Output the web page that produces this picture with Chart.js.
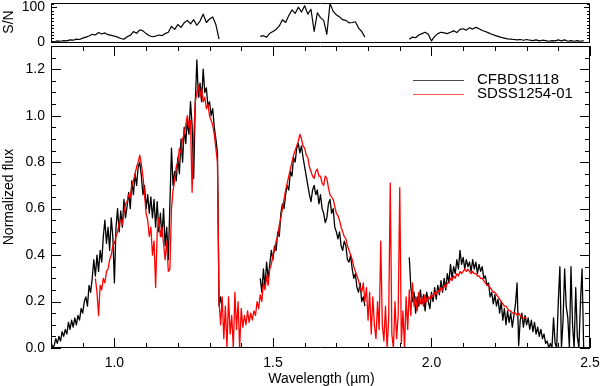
<!DOCTYPE html>
<html><head><meta charset="utf-8">
<script src="https://cdn.jsdelivr.net/npm/chart.js@4.4.1/dist/chart.umd.min.js"></script>
<style>
html,body{margin:0;padding:0;background:#fff;}
#wrap{position:relative;width:600px;height:386px;}
canvas{position:absolute;left:0;top:0;}
</style>
</head><body>
<div id="wrap"><canvas id="sn" width="600" height="386"></canvas><canvas id="main" width="600" height="386"></canvas></div>
<script>
// ---- data: wavelength grids in micron ----
const fluxStep = 0.005;   // spectra sampled every 0.005 micron
const snStep = 0.01;      // S/N sampled every 0.01 micron

// CFBDS1118 (black), three observed segments
const cfbdsStartA = 0.800;
const cfbdsFluxA = [
 0.03,0.00, 0.01,0.04, 0.02,0.05, 0.03,0.07, 0.05,0.08, 0.06,0.11, 0.08,0.12, 0.09,0.13, 0.10,0.14, 0.12,0.17,
 0.15,0.20, 0.22,0.18, 0.27,0.24, 0.30,0.38, 0.31,0.40, 0.33,0.42, 0.37,0.48, 0.55,0.45, 0.52,0.42, 0.56,0.48,
 0.28,0.52, 0.60,0.50, 0.59,0.52, 0.64,0.56, 0.61,0.67, 0.60,0.72, 0.66,0.75, 0.70,0.78, 0.80,0.74, 0.66,0.70,
 0.60,0.66, 0.58,0.65, 0.56,0.64, 0.52,0.63, 0.50,0.58, 0.48,0.60, 0.44,0.52, 0.38,0.62, 0.86,0.70, 0.76,0.72,
 0.82,0.75, 0.90,0.80, 0.95,0.88, 0.98,0.92, 1.06,0.96, 0.73,1.05, 1.24,1.08, 1.14,1.06, 1.20,1.10, 1.12,1.04,
 1.06,1.00, 1.03,0.95, 0.90,0.84, 0.18,0.22, 0.17
];
const cfbdsStartB = 1.460;
const cfbdsFluxB = [
 0.30,0.24, 0.34,0.26, 0.37,0.30, 0.36,0.42,
 0.38,0.44, 0.42,0.50, 0.48,0.58, 0.62,0.60, 0.66,0.70, 0.68,0.76, 0.74,0.82, 0.80,0.86, 0.88,0.84, 0.87,0.82,
 0.78,0.74, 0.70,0.66, 0.63,0.68, 0.70,0.66, 0.68,0.62, 0.66,0.60, 0.58,0.54, 0.56,0.62, 0.64,0.58, 0.60,0.52,
 0.50,0.47, 0.50,0.44, 0.42,0.46, 0.44,0.38, 0.37,0.40, 0.34,0.30, 0.32,0.26, 0.24,0.28, 0.20,0.22, 0.18
];
const cfbdsStartC = 1.930;
const cfbdsFluxC = [
 0.39,0.26, 0.20,0.24, 0.15,0.22, 0.18,0.25, 0.19,0.23, 0.16,0.24, 0.20,0.17,
 0.24,0.20, 0.26,0.21, 0.27,0.23, 0.29,0.24, 0.30,0.25, 0.32,0.28, 0.36,0.30, 0.35,0.32, 0.38,0.34, 0.42,0.36,
 0.39,0.34, 0.38,0.35, 0.37,0.33, 0.38,0.34, 0.37,0.32, 0.36,0.33, 0.35,0.30, 0.31,0.27, 0.28,0.22, 0.24,0.19,
 0.23,0.18, 0.21,0.15, 0.20,0.12, 0.17,0.10, 0.16,0.11, 0.15,0.09, 0.14,0.19, 0.28,0.01, 0.12,0.15, 0.09,0.14,
 0.10,0.13, 0.08,0.12, 0.07,0.11, 0.06,0.09, 0.05,0.08, 0.04,0.06, 0.02,0.03, 0.00,0.02, 0.00,0.13, 0.02,0.00,
 0.20,0.35, 0.00,0.12, 0.34,0.18, 0.13,0.00, 0.35,0.10, 0.00,0.26, 0.05,0.00, 0.20,0.34, 0.00
];

// SDSS1254-01 (red)
const sdssStart = 0.940;
const sdssFlux = [
 0.30,0.24, 0.14,0.27, 0.25,0.30, 0.28,0.33, 0.34,0.38, 0.40,0.44,
 0.45,0.48, 0.50,0.54, 0.55,0.53, 0.58,0.62, 0.63,0.66, 0.65,0.70, 0.72,0.75, 0.78,0.80, 0.83,0.79, 0.74,0.66,
 0.58,0.55, 0.48,0.52, 0.40,0.46, 0.26,0.50, 0.56,0.48, 0.52,0.45, 0.38,0.46, 0.33,0.34, 0.60,0.68, 0.72,0.78,
 0.80,0.86, 0.84,0.90, 0.92,0.96, 1.00,0.95, 0.98,0.67, 0.90,1.06, 1.10,1.13, 1.08,1.12, 1.06,1.08, 1.03,1.05,
 1.00,0.98, 0.96,0.92, 0.86,0.80, 0.20,0.10, 0.22,0.04, 0.18,0.00, 0.22,0.06, 0.14,0.00, 0.24,0.08, 0.20,0.00,
 0.17,0.09, 0.14,0.10, 0.16,0.11, 0.15,0.12, 0.16,0.14, 0.20,0.17, 0.23,0.20, 0.28,0.25, 0.31,0.27, 0.34,0.36,
 0.40,0.42, 0.46,0.48, 0.53,0.56, 0.60,0.64, 0.68,0.71, 0.74,0.77, 0.80,0.83, 0.85,0.87, 0.89,0.92, 0.90,0.87,
 0.86,0.83, 0.82,0.78, 0.76,0.74, 0.73,0.76, 0.77,0.74, 0.74,0.71, 0.70,0.74, 0.73,0.69, 0.66,0.65, 0.64,0.61,
 0.58,0.57, 0.55,0.52, 0.50,0.48, 0.47,0.44, 0.42,0.40, 0.38,0.35, 0.33,0.31, 0.29,0.26, 0.24,0.28, 0.20,0.26,
 0.12,0.24, 0.06,0.22, 0.10,0.04, 0.20,0.08, 0.46,0.10, 0.03,0.18, 0.00,0.12, 0.71,0.06, 0.00,0.20, 0.04,0.14,
 0.69,0.02, 0.16,0.00, 0.22,0.08, 0.25,0.14, 0.28,0.18, 0.22,0.16, 0.24,0.19, 0.22,0.18, 0.23,0.20, 0.22,0.21,
 0.23,0.22, 0.24,0.23, 0.25,0.24, 0.26,0.25, 0.27,0.26, 0.28,0.28, 0.30,0.29, 0.31,0.30, 0.32,0.31, 0.33,0.32,
 0.33,0.34, 0.33,0.34, 0.33,0.32, 0.33,0.32, 0.32,0.31, 0.31,0.30, 0.30,0.29, 0.28,0.27, 0.27,0.26, 0.25,0.24,
 0.24,0.23, 0.22,0.21, 0.20,0.19, 0.18,0.18, 0.17,0.16, 0.16,0.15, 0.15,0.15, 0.14,0.15, 0.14,0.13, 0.13,0.13,
 0.13
];

// S/N (top panel), three segments
const snStartA = 0.80;
const snValuesA = [
 2,0,3,2,4,3,6,5,8,7,
 11,14,17,22,20,27,23,26,21,19,
 17,14,10,8,15,19,30,25,35,32,
 24,18,15,17,20,18,24,28,45,36,
 50,42,55,62,52,64,48,60,80,56,
 66,72,50,8
];
const snStartB = 1.46;
const snValuesB = [
 16,18,14,25,
 30,36,46,64,56,76,92,82,100,86,
 104,80,94,30,84,70,62,22,111,88,
 78,72,64,62,55,56,58,40,30,14
];
const snStartC = 1.93;
const snValuesC = [
 8,14,12,20,24,28,22,
 3,16,24,28,26,24,28,32,27,36,
 38,34,41,37,42,38,33,30,26,22,
 19,16,13,11,9,8,7,6,7,5,
 7,5,4,6,3,5,4,2,4,3,
 6,3,6,2,4,2,4,2,4
];

const seriesNames = ['CFBDS1118', 'SDSS1254-01'];
const seriesColors = ['#000000', '#ff0000'];
const xMajorTicks = [1.0, 1.5, 2.0, 2.5];
const fluxMajorTicks = [0.0, 0.2, 0.4, 0.6, 0.8, 1.0, 1.2];
const snMajorTicks = [0, 100];

function segment(start, step, values) {
  return values.map((v, i) => ({ x: +(start + i * step).toFixed(4), y: v }));
}
function joinSegments(step, parts) {
  const out = [];
  parts.forEach((p, j) => {
    const pts = segment(p[0], step, p[1]);
    if (j > 0) out.push({ x: pts[0].x - step / 2, y: null });
    out.push(...pts);
  });
  return out;
}

const FONT = '"Liberation Sans", Arial, Helvetica, sans-serif';

const framePlugin = {
  id: 'frame',
  afterDatasetsDraw(chart, args, o) {
    const { ctx, chartArea: a } = chart;
    const xs = chart.scales.x, ys = chart.scales.y;
    ctx.save();
    ctx.strokeStyle = '#000';
    ctx.lineWidth = 1;
    ctx.beginPath();
    ctx.rect(a.left + 0.5, a.top + 0.5, a.right - a.left - 1, a.bottom - a.top - 1);
    ctx.stroke();
    if (o.xTicks) {
      const k0 = Math.ceil(xs.min / o.xMinor - 1e-6), k1 = Math.floor(xs.max / o.xMinor + 1e-6);
      ctx.beginPath();
      for (let k = k0; k <= k1; k++) {
        const v = k * o.xMinor;
        const major = o.xMajor.some(m => Math.abs(m - v) < 1e-6);
        const len = major ? o.majorLen : o.minorLen;
        const px = Math.round(xs.getPixelForValue(v)) + 0.5;
        ctx.moveTo(px, a.bottom); ctx.lineTo(px, a.bottom - len);
        ctx.moveTo(px, a.top); ctx.lineTo(px, a.top + len);
      }
      ctx.stroke();
    }
    {
      const k0 = Math.ceil(ys.min / o.yMinor - 1e-6), k1 = Math.floor(ys.max / o.yMinor + 1e-6);
      ctx.beginPath();
      for (let k = k0; k <= k1; k++) {
        const v = k * o.yMinor;
        const major = o.yMajor.some(m => Math.abs(m - v) < 1e-6);
        const len = major ? o.yMajorLen : o.yMinorLen;
        const py = Math.round(ys.getPixelForValue(v)) + 0.5;
        ctx.moveTo(a.left, py); ctx.lineTo(a.left + len, py);
        ctx.moveTo(a.right, py); ctx.lineTo(a.right - len, py);
      }
      ctx.stroke();
    }
    ctx.fillStyle = '#000';
    ctx.font = '14px ' + FONT;
    if (o.xLabels) {
      ctx.textAlign = 'center'; ctx.textBaseline = 'middle';
      o.xMajor.forEach(v => ctx.fillText(v.toFixed(1), xs.getPixelForValue(v), a.bottom + 15));
    }
    ctx.textAlign = 'right'; ctx.textBaseline = 'middle';
    o.yMajor.forEach(v => ctx.fillText(v.toFixed(o.yDigits), a.left - 6, ys.getPixelForValue(v)));
    if (o.xTitle) {
      ctx.textAlign = 'center'; ctx.textBaseline = 'middle';
      ctx.fillText(o.xTitle, (a.left + a.right) / 2 + 1, a.bottom + 31);
    }
    if (o.yTitle) {
      ctx.save();
      ctx.translate(9, o.yTitleY != null ? o.yTitleY : (a.top + a.bottom) / 2);
      ctx.rotate(-Math.PI / 2);
      ctx.textAlign = 'center'; ctx.textBaseline = 'middle';
      ctx.fillText(o.yTitle, 0, 0);
      ctx.restore();
    }
    if (o.legend) {
      ctx.font = '15px ' + FONT;
      ctx.textAlign = 'left'; ctx.textBaseline = 'middle';
      seriesNames.forEach((name, i) => {
        const ly = a.top + 34 + i * 14;
        ctx.strokeStyle = seriesColors[i];
        ctx.lineWidth = 1;
        ctx.globalAlpha = 0.7;
        ctx.beginPath();
        ctx.moveTo(a.right - 177, ly + 0.5); ctx.lineTo(a.right - 126, ly + 0.5);
        ctx.stroke();
        ctx.globalAlpha = 1;
        ctx.fillText(name, a.right - 113, ly);
      });
    }
    ctx.restore();
  }
};

const common = {
  responsive: false,
  animation: false,
  events: [],
  elements: { point: { radius: 0 }, line: { tension: 0, borderJoinStyle: 'round' } }
};

new Chart(document.getElementById('sn'), {
  type: 'line',
  data: { datasets: [{ data: joinSegments(snStep, [[snStartA, snValuesA], [snStartB, snValuesB], [snStartC, snValuesC]]),
                       borderColor: '#000', borderWidth: 1.2, spanGaps: false }] },
  options: Object.assign({}, common, {
    layout: { padding: { left: 51, right: 10, top: 3, bottom: 343 } },
    scales: {
      x: { type: 'linear', min: 0.8, max: 2.5, display: false },
      y: { type: 'linear', min: -3, max: 112, display: false }
    },
    plugins: {
      legend: { display: false }, tooltip: { enabled: false },
      frame: { xTicks: false, xLabels: false, yMajor: snMajorTicks, yMinor: 10, yMajorLen: 6, yMinorLen: 3, yDigits: 0, yTitle: 'S/N', yTitleY: 22 }
    }
  }),
  plugins: [framePlugin]
});

new Chart(document.getElementById('main'), {
  type: 'line',
  data: { datasets: [
    { label: seriesNames[0],
      data: joinSegments(fluxStep, [[cfbdsStartA, cfbdsFluxA], [cfbdsStartB, cfbdsFluxB], [cfbdsStartC, cfbdsFluxC]]),
      borderColor: seriesColors[0], borderWidth: 1.3, order: 1, spanGaps: false },
    { label: seriesNames[1], data: segment(sdssStart, fluxStep, sdssFlux),
      borderColor: seriesColors[1], borderWidth: 1.3, order: 0 }
  ] },
  options: Object.assign({}, common, {
    layout: { padding: { left: 51, right: 10, top: 46, bottom: 38 } },
    scales: {
      x: { type: 'linear', min: 0.8, max: 2.5, display: false },
      y: { type: 'linear', min: 0, max: 1.3, display: false }
    },
    plugins: {
      legend: { display: false }, tooltip: { enabled: false },
      frame: { xTicks: true, xLabels: true, xMajor: xMajorTicks, xMinor: 0.1, majorLen: 10, minorLen: 5,
               yMajor: fluxMajorTicks, yMinor: 0.05, yMajorLen: 10, yMinorLen: 5, yDigits: 1,
               xTitle: 'Wavelength (\u00b5m)', yTitle: 'Normalized flux', yTitleY: 197, legend: true }
    }
  }),
  plugins: [framePlugin]
});
</script>
</body></html>
